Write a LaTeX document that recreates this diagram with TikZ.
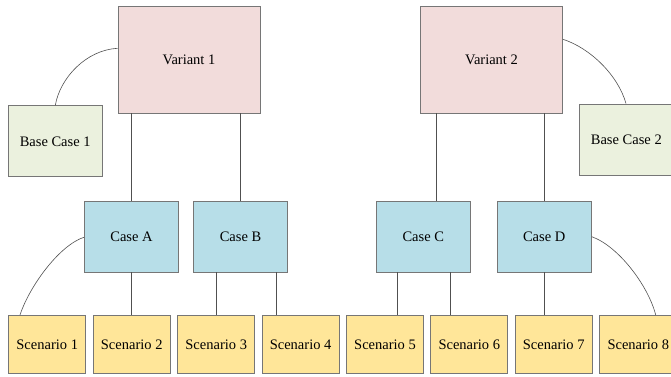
\documentclass[tikz,border=0pt]{standalone}
\usepackage{fontspec}
\setmainfont{Liberation Serif}
\definecolor{vpink}{HTML}{F2DCDB}
\definecolor{bgreen}{HTML}{EBF1DE}
\definecolor{cblue}{HTML}{B7DEE8}
\definecolor{syellow}{HTML}{FFE699}
\definecolor{bordr}{HTML}{767676}
\definecolor{linec}{HTML}{505050}
\begin{document}
\begin{tikzpicture}[x=1pt,y=-1pt,
  box/.style={draw=bordr,line width=0.9pt,rectangle,inner sep=0pt,font=\fontsize{14.5}{17}\selectfont},
  variant/.style={box,fill=vpink,minimum width=142pt,minimum height=107pt},
  basecase/.style={box,fill=bgreen,minimum width=94pt,minimum height=71pt},
  casebox/.style={box,fill=cblue,minimum width=94.3pt,minimum height=71pt},
  scen/.style={box,fill=syellow,minimum width=77pt,minimum height=58pt},
  conn/.style={draw=linec,line width=0.6pt}]
\useasboundingbox (0,0) rectangle (671,376);
% nodes
\node[variant] (V1) at (189,59.5) {Variant 1};
\node[variant] (V2) at (491.5,59.5) {Variant 2};
\node[basecase] (BC1) at (55.2,141.3) {Base Case 1};
\node[basecase] (BC2) at (626.3,139.5) {Base Case 2};
\node[casebox] (A) at (131.5,236.5) {Case A};
\node[casebox] (B) at (240.5,236.5) {Case B};
\node[casebox] (C) at (423.3,236.5) {Case C};
\node[casebox] (D) at (544.2,236.5) {Case D};
\node[scen] (S1) at (47.2,344.4) {Scenario 1};
\node[scen] (S2) at (131.7,344.4) {Scenario 2};
\node[scen] (S3) at (216.2,344.4) {Scenario 3};
\node[scen] (S4) at (300.6,344.4) {Scenario 4};
\node[scen] (S5) at (385,344.4) {Scenario 5};
\node[scen] (S6) at (469.3,344.4) {Scenario 6};
\node[scen] (S7) at (553.7,344.4) {Scenario 7};
\node[scen] (S8) at (638.3,344.4) {Scenario 8};
% anchor x positions
\coordinate (xa) at (131,0);
\coordinate (xb) at (240.3,0);
\coordinate (xc) at (436.7,0);
\coordinate (xd) at (544,0);
\coordinate (x2) at (131.3,0);
\coordinate (x3) at (216,0);
\coordinate (x4) at (276,0);
\coordinate (x5) at (397.3,0);
\coordinate (x6) at (450.3,0);
\coordinate (x7) at (544,0);
% vertical connectors
\draw[conn] (xa |- V1.south) -- (xa |- A.north);
\draw[conn] (xb |- V1.south) -- (xb |- B.north);
\draw[conn] (xc |- V2.south) -- (xc |- C.north);
\draw[conn] (xd |- V2.south) -- (xd |- D.north);
\draw[conn] (x2 |- A.south) -- (x2 |- S2.north);
\draw[conn] (x3 |- B.south) -- (x3 |- S3.north);
\draw[conn] (x4 |- B.south) -- (x4 |- S4.north);
\draw[conn] (x5 |- C.south) -- (x5 |- S5.north);
\draw[conn] (x6 |- C.south) -- (x6 |- S6.north);
\draw[conn] (x7 |- D.south) -- (x7 |- S7.north);
% curved connectors
\coordinate (v1l) at (V1.west |- 0,48.3);
\coordinate (bc1t) at (55.3,0 |- BC1.north);
\draw[conn] (v1l) .. controls (86,50) and (60,78) .. (bc1t);
\coordinate (v2r) at (V2.east |- 0,39.3);
\coordinate (bc2t) at (626,0 |- BC2.north);
\draw[conn] (v2r) .. controls (590,48) and (618,75) .. (bc2t);
\coordinate (al) at (A.west |- 0,237.3);
\coordinate (s1t) at (20,0 |- S1.north);
\draw[conn] (al) .. controls (60,245) and (30,285) .. (s1t);
\coordinate (dr) at (D.east |- 0,236.7);
\coordinate (s8t) at (655.7,0 |- S8.north);
\draw[conn] (dr) .. controls (618,246) and (648,285) .. (s8t);
\end{tikzpicture}
\end{document}
